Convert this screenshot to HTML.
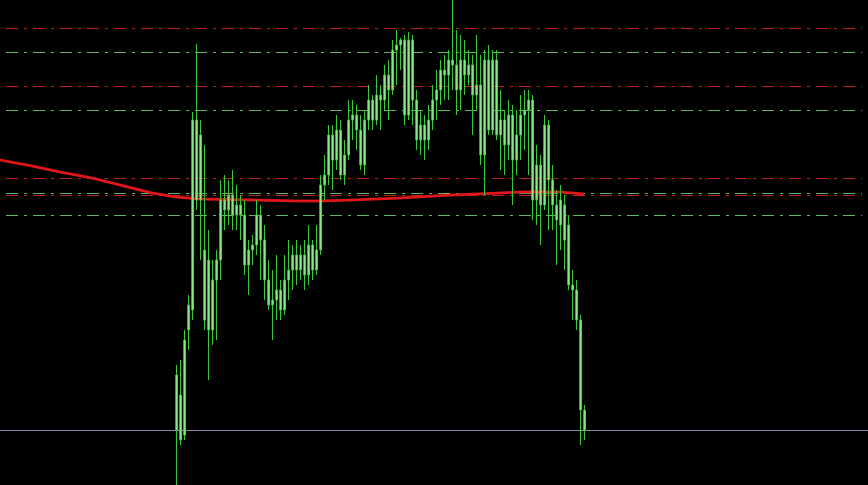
<!DOCTYPE html>
<html><head><meta charset="utf-8">
<style>
html,body{margin:0;padding:0;background:#000;overflow:hidden}
svg{display:block}
</style></head>
<body>
<svg id="chart" width="868" height="485" viewBox="0 0 868 485" xmlns="http://www.w3.org/2000/svg">
<rect x="0" y="0" width="868" height="485" fill="#000"/>
<g id="levels"></g>
<g id="ma"></g>
<g id="candles"></g>
</svg>
<script>
const opens  = [70,60,65,170,190,380,300,250,240,170,220,240,300,290,305,285,295,285,235,250,255,285,260,220,195,200,210,190,220,230,245,230,245,225,255,230,250,315,325,365,340,370,325,345,380,385,370,335,380,400,380,405,400,425,410,450,455,460,385,460,400,360,375,360,380,400,410,430,425,440,435,410,440,425,435,405,415,345,440,370,440,365,380,355,385,340,365,385,390,400,300,335,295,375,320,295,300,295,275,215,210,180,90];
const closes = [125,105,160,195,380,300,365,180,170,220,240,300,290,305,285,295,285,235,250,255,285,260,220,195,200,210,190,220,230,245,230,245,225,255,230,250,315,325,365,340,370,325,345,380,385,370,335,380,400,380,405,400,425,410,450,455,460,385,460,400,360,375,360,380,400,410,430,425,440,435,410,440,425,435,405,415,345,440,370,440,365,380,355,385,340,365,385,390,400,300,335,295,375,320,295,280,275,260,215,210,180,90,70];
const highs  = [135,140,170,205,388,456,380,355,270,240,250,320,325,320,330,315,305,300,260,265,300,295,275,240,230,245,220,245,260,255,260,255,260,275,260,275,325,345,375,375,385,380,360,400,400,395,385,390,415,405,425,415,435,440,460,470,462,465,468,465,410,390,385,395,415,430,440,445,450,500,470,465,460,450,445,465,445,450,455,450,450,410,390,400,395,390,405,410,410,405,355,345,385,380,335,310,315,305,285,230,220,185,95];
const lows   = [15,55,60,150,180,290,240,170,120,155,160,220,270,275,270,270,260,225,205,235,245,220,200,190,160,180,180,185,200,210,215,220,210,215,220,225,245,300,315,310,330,320,315,340,360,350,330,325,370,370,375,370,390,380,405,415,430,375,380,375,350,345,340,350,370,380,395,400,400,410,385,390,405,415,365,390,335,305,365,365,360,330,325,340,295,325,340,350,325,280,275,255,290,270,270,235,250,230,210,180,170,55,60];
const maIdx  = [-44,-36,-29,-21,-14,-6,0,6,19,31,36,44,56,69,81,86,96,102];
const maVals = [340,334,328,322,315,307,303,301,300,299,299,300,302,305,307,308,308,306];
const redLevels   = [472,414,322,305];
const greenLevels = [448,390,307,285];
const baseLevel = 70;

function xOf(i){ return 176 + i*4; }
function yOf(v){ return 500 - v; }
const NS = "http://www.w3.org/2000/svg";
function mk(tag, attrs, parent){
  const e = document.createElementNS(NS, tag);
  for (const k in attrs) e.setAttribute(k, attrs[k]);
  parent.appendChild(e); return e;
}
const lv = document.getElementById('levels');
redLevels.forEach(v=>{
  const l = mk('line',{x1:6,x2:862,y1:yOf(v)+0.5,y2:yOf(v)+0.5,stroke:'#c0201c','stroke-width':1,'stroke-dasharray':'12 6 3 6'},lv);
  
  
});
greenLevels.forEach(v=>{
  const l = mk('line',{x1:6,x2:862,y1:yOf(v)+0.5,y2:yOf(v)+0.5,stroke:'#5fb85f','stroke-width':1,'stroke-dasharray':'12 6 3 6'},lv);
  
  
});
const bl = mk('line',{x1:0,x2:868,y1:yOf(baseLevel)+0.5,y2:yOf(baseLevel)+0.5,stroke:'#8a8aa0','stroke-width':1},lv);



const maG = document.getElementById('ma');
const pts = maIdx.map((i,k)=>xOf(i)+','+yOf(maVals[k])).join(' ');
const maLine = mk('polyline',{points:pts,fill:'none',stroke:'#e0161a','stroke-width':2.8,'stroke-linejoin':'round'},maG);



const cg = document.getElementById('candles');
opens.forEach((o,i)=>{
  const x = xOf(i), c = closes[i];
  const w = mk('line',{x1:x+0.5,x2:x+0.5,y1:yOf(highs[i]),y2:yOf(lows[i]),stroke:'#38c838','stroke-width':1},cg);
  
  
  const top = yOf(Math.max(o,c)), bot = yOf(Math.min(o,c));
  const b = mk('rect',{x:x-0.5,y:top,width:2.2,height:Math.max(1,bot-top),fill:'#86e886',stroke:'#30c030','stroke-width':0.7},cg);
  
  
});
</script>
</body></html>
